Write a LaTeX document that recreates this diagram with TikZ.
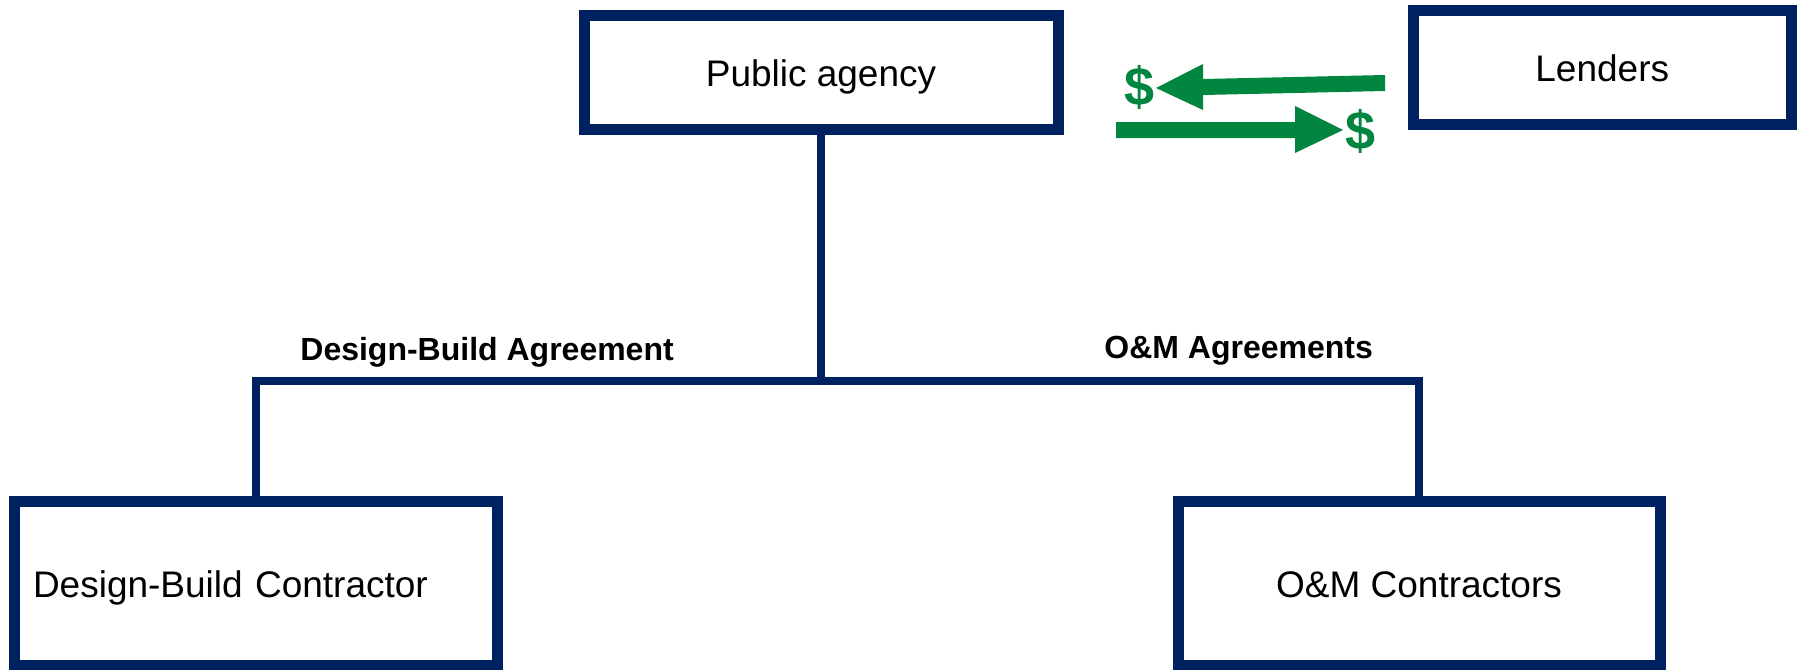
\documentclass[tikz,border=0pt]{standalone}
\usepackage{fontspec}
\setmainfont{Liberation Sans}
\definecolor{navy}{RGB}{0,33,96}
\definecolor{moneygreen}{RGB}{0,134,62}
\begin{document}
\begin{tikzpicture}[x=0.5pt,y=-0.5pt,
  box/.style={draw=navy, line width=5.5pt, fill=white, rectangle, inner sep=0pt,
    font=\fontsize{18.5pt}{20pt}\selectfont, text height=14pt, text depth=0pt},
  conn/.style={draw=navy, line width=4pt},
  lbl/.style={font=\bfseries\fontsize{16pt}{18pt}\selectfont, anchor=base west, inner sep=0pt},
  dollar/.style={text=moneygreen, font=\bfseries\fontsize{27pt}{30pt}\selectfont, inner sep=0pt},
  cash/.style={fill=moneygreen}]
\useasboundingbox (0,0) rectangle (1801,670);

% parties
\node[box, minimum width=237pt, minimum height=57pt] (pa) at (821,72.5) {Public agency};
\node[box, minimum width=188.75pt, minimum height=57pt] (lend) at (1602.25,67.5) {Lenders};
\node[box, minimum height=82pt, text width=222.5pt, inner xsep=9.5pt, align=left] (db) at (255.5,583) {Design-Build Contractor};
\node[box, minimum width=241pt, minimum height=81.75pt] (om) at (1419,583.25) {O\&M Contractors};

% contract tree
\coordinate (bus) at (0,381);
\draw[conn] (pa.south) -- (pa.south |- bus);
\draw[conn] (db.north) |- (om.north |- bus) -- (om.north);

\node[lbl] (dba) at (300,360) {Design-Build Agreement};
\node[lbl] (oma) at (1104,358) {O\&M Agreements};

% financing flows
\fill[cash] (1385,75) -- (1203,79) -- (1203,64) -- (1156,88) -- (1203,110) -- (1203,95) -- (1385,91) -- cycle;
\fill[cash] (1116,122) -- (1295,122) -- (1295,106) -- (1343,130) -- (1295,153) -- (1295,138) -- (1116,138) -- cycle;
\node[dollar] (d1) at (1140,87) {\$};
\node[dollar] (d2) at (1361,131) {\$};
\end{tikzpicture}
\end{document}
